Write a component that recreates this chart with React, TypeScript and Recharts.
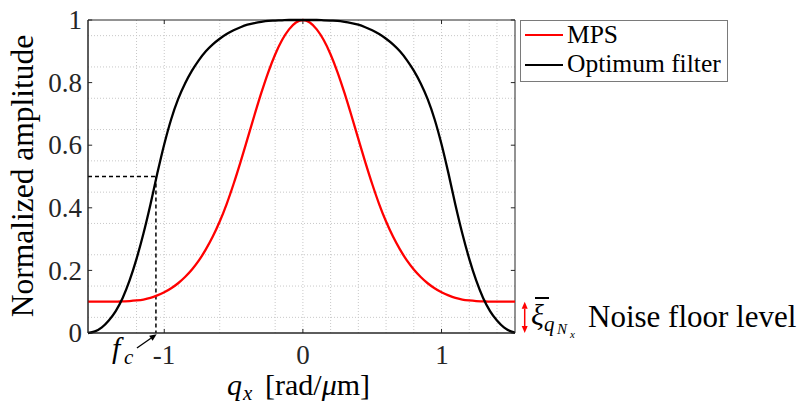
import React from "react";
import { LineChart, Line, XAxis, YAxis, CartesianGrid, ReferenceLine, ReferenceArea, Legend } from "recharts";

const FONT = '"Liberation Serif", serif';
const AXIS = "#262626";

// spatial frequency q_x [rad/um]
const qValues = [
  -1.55, -1.5, -1.45, -1.4, -1.35, -1.3, -1.25, -1.2, -1.15, -1.1, -1.05, -1, -0.95, -0.9, -0.85, -0.8,
  -0.75, -0.7, -0.65, -0.6, -0.55, -0.5, -0.45, -0.4, -0.35, -0.3, -0.25, -0.2, -0.15, -0.1, -0.05, 0,
  0.05, 0.1, 0.15, 0.2, 0.25, 0.3, 0.35, 0.4, 0.45, 0.5, 0.55, 0.6, 0.65, 0.7, 0.75, 0.8,
  0.85, 0.9, 0.95, 1, 1.05, 1.1, 1.15, 1.2, 1.25, 1.3, 1.35, 1.4, 1.45, 1.5, 1.55,
];

const mpsValues = [
  0.1, 0.1, 0.1, 0.1, 0.1, 0.101, 0.102, 0.104, 0.107, 0.112, 0.12, 0.13, 0.143, 0.159, 0.179, 0.203,
  0.232, 0.267, 0.308, 0.356, 0.412, 0.476, 0.546, 0.62, 0.695, 0.767, 0.833, 0.89, 0.936, 0.97, 0.992, 1,
  0.992, 0.97, 0.936, 0.89, 0.833, 0.767, 0.695, 0.62, 0.546, 0.476, 0.412, 0.356, 0.308, 0.267, 0.232, 0.203,
  0.179, 0.159, 0.143, 0.13, 0.12, 0.112, 0.107, 0.104, 0.102, 0.101, 0.1, 0.1, 0.1, 0.1, 0.1,
];

const filterValues = [
  0, 0.005, 0.018, 0.04, 0.07, 0.112, 0.168, 0.237, 0.318, 0.41, 0.51, 0.603, 0.683, 0.747, 0.797, 0.838,
  0.872, 0.9, 0.922, 0.94, 0.955, 0.967, 0.977, 0.985, 0.99, 0.994, 0.997, 0.998, 0.999, 1, 1, 1,
  1, 1, 0.999, 0.998, 0.997, 0.994, 0.99, 0.985, 0.977, 0.967, 0.955, 0.94, 0.922, 0.9, 0.872, 0.838,
  0.797, 0.747, 0.683, 0.603, 0.51, 0.41, 0.318, 0.237, 0.168, 0.112, 0.07, 0.04, 0.018, 0.005, 0,
];

const xTicks = [-1, 0, 1];
const yTicks = [0, 0.2, 0.4, 0.6, 0.8, 1];
const gridX = [-1.4, -1.2, -1, -0.8, -0.6, -0.4, -0.2, 0, 0.2, 0.4, 0.6, 0.8, 1, 1.2, 1.4];
const gridY = [0.05, 0.1, 0.15, 0.2, 0.25, 0.3, 0.35, 0.4, 0.45, 0.5, 0.55, 0.6, 0.65, 0.7, 0.75, 0.8, 0.85, 0.9, 0.95];

const xMin = -1.55;
const xMax = 1.53;
const cutoffFreq = -1.06;
const halfLevel = 0.5;
const noiseFloor = 0.1;

const data = qValues.map((q, i) => ({ q, mps: mpsValues[i], filter: filterValues[i] }));

// the serif face only gets picked at small sizes here, so text is set at 16px and scaled up
const BASE = 16;
const BASELINE = 0.8375 * BASE;

function Label({ x, y, size, anchor = "start", italic = false, rotate = 0, color = "#000", children }: any) {
  const k = size / BASE;
  const inner: React.CSSProperties = {
    position: "absolute",
    top: -BASELINE,
    whiteSpace: "nowrap",
    fontFamily: FONT,
    fontSize: BASE,
    lineHeight: `${BASE}px`,
    fontStyle: italic ? "italic" : "normal",
    color,
  };
  if (anchor === "end") inner.right = 0;
  else inner.left = 0;
  if (anchor === "middle") inner.transform = "translateX(-50%)";
  return (
    <div
      style={{
        position: "absolute",
        left: x,
        top: y,
        width: 0,
        height: 0,
        transform: `rotate(${rotate}deg) scale(${k})`,
        transformOrigin: "0 0",
      }}
    >
      <span style={inner}>{children}</span>
    </div>
  );
}

const XTick = (p: any) => (
  <foreignObject x={p.x - 50} y={p.y - 20} width={100} height={60} style={{ overflow: "visible" }}>
    <div style={{ position: "relative", width: 100, height: 60 }}>
      <Label x={50} y={41} size={27} anchor="middle" color={AXIS}>
        {String(p.payload.value)}
      </Label>
    </div>
  </foreignObject>
);

const YTick = (p: any) => (
  <foreignObject x={p.x - 100} y={p.y - 30} width={100} height={60} style={{ overflow: "visible" }}>
    <div style={{ position: "relative", width: 100, height: 60 }}>
      <Label x={100} y={39.3} size={27} anchor="end" color={AXIS}>
        {String(p.payload.value)}
      </Label>
    </div>
  </foreignObject>
);

function arrowHead(x: number, y: number, fromX: number, fromY: number, color: string) {
  const ang = Math.atan2(y - fromY, x - fromX);
  const len = 7;
  const half = 3;
  const bx = x - len * Math.cos(ang);
  const by = y - len * Math.sin(ang);
  const px = -Math.sin(ang) * half;
  const py = Math.cos(ang) * half;
  return {
    base: [bx, by],
    el: <polygon points={`${x},${y} ${bx + px},${by + py} ${bx - px},${by - py}`} fill={color} />,
  };
}

const SingleArrow = (p: any) => {
  const { x1, y1, x2, y2 } = p;
  const h = arrowHead(x2, y2, x1, y1, "#000");
  return (
    <g>
      <line x1={x1} y1={y1} x2={h.base[0]} y2={h.base[1]} stroke="#000" strokeWidth={1.3} />
      {h.el}
    </g>
  );
};

const DoubleArrow = (p: any) => {
  const { x1, y1, x2, y2 } = p;
  const a = arrowHead(x1, y1, x2, y2, "#ff0000");
  const b = arrowHead(x2, y2, x1, y1, "#ff0000");
  return (
    <g>
      <line x1={a.base[0]} y1={a.base[1]} x2={b.base[0]} y2={b.base[1]} stroke="#ff0000" strokeWidth={1.5} />
      {a.el}
      {b.el}
    </g>
  );
};

const renderLegend = (props: any) => {
  const payload = props.payload || [];
  return (
    <div
      style={{
        position: "relative",
        boxSizing: "border-box",
        border: "1px solid #7a7a7a",
        background: "#fff",
        width: 208,
        height: 62,
      }}
    >
      {payload.map((entry: any, i: number) => (
        <React.Fragment key={entry.value}>
          <div
            style={{
              position: "absolute",
              left: 4,
              top: 12.75 + i * 30,
              width: 38,
              height: 0,
              borderTop: `2.5px solid ${entry.color}`,
            }}
          />
          <Label x={46} y={22 + i * 29} size={25.5}>
            {entry.value}
          </Label>
        </React.Fragment>
      ))}
    </div>
  );
};

function Annotations() {
  const sub = { fontFamily: FONT, fontStyle: "italic" as const };
  return (
    <div style={{ position: "absolute", left: 0, top: 0, width: 807, height: 405, pointerEvents: "none" }}>
      <Label x={33} y={176} size={31.5} anchor="middle" rotate={-90}>
        Normalized amplitude
      </Label>
      <Label x={112} y={358} size={30} italic>f</Label>
      <Label x={124} y={364} size={21} italic>c</Label>
      <Label x={227} y={395} size={30} italic>q</Label>
      <Label x={243} y={400} size={21} italic>x</Label>
      <Label x={265} y={395} size={30}>
        [rad/<span style={sub}>μ</span>m]
      </Label>
      <div style={{ position: "absolute", left: 535, top: 297.4, width: 14, height: 1.2, background: "#000" }} />
      <Label x={531} y={325} size={30} italic>ξ</Label>
      <Label x={544} y={331} size={21} italic>q</Label>
      <Label x={557} y={334} size={15} italic>N</Label>
      <Label x={570} y={338} size={11} italic>x</Label>
      <Label x={588} y={327} size={31}>Noise floor level</Label>
    </div>
  );
}

export default function App() {
  const tx = 0.03;
  const ty = 0.013;
  return (
    <div style={{ position: "absolute", left: 0, top: 0, width: 807, height: 405, background: "#fff" }}>
      <LineChart width={807} height={405} data={data} margin={{ top: 20, right: 292, bottom: 30, left: 40 }}>
        <CartesianGrid
          stroke="#c8c8c8"
          strokeDasharray="1 2"
          horizontalValues={gridY}
          verticalValues={gridX}
        />
        <XAxis
          dataKey="q"
          type="number"
          domain={[xMin, xMax]}
          allowDataOverflow
          ticks={xTicks}
          tickLine={false}
          tickSize={0}
          tickMargin={10}
          height={42}
          axisLine={{ stroke: AXIS, strokeWidth: 1 }}
          tick={XTick}
        />
        <YAxis
          type="number"
          domain={[0, 1]}
          ticks={yTicks}
          width={48}
          tickLine={false}
          tickSize={0}
          tickMargin={6}
          axisLine={{ stroke: AXIS, strokeWidth: 1 }}
          tick={YTick}
        />
        <ReferenceArea x1={xMin} x2={xMax} y1={0} y2={1} fill="none" fillOpacity={0} stroke={AXIS} strokeWidth={1} />
        {yTicks.map((v) => (
          <ReferenceLine key={`yl${v}`} segment={[{ x: xMin, y: v }, { x: xMin + tx, y: v }]} stroke={AXIS} />
        ))}
        {yTicks.map((v) => (
          <ReferenceLine key={`yr${v}`} segment={[{ x: xMax, y: v }, { x: xMax - tx, y: v }]} stroke={AXIS} />
        ))}
        {xTicks.map((v) => (
          <ReferenceLine key={`xb${v}`} segment={[{ x: v, y: 0 }, { x: v, y: ty }]} stroke={AXIS} />
        ))}
        {xTicks.map((v) => (
          <ReferenceLine key={`xt${v}`} segment={[{ x: v, y: 1 }, { x: v, y: 1 - ty }]} stroke={AXIS} />
        ))}
        <ReferenceLine
          segment={[{ x: xMin, y: halfLevel }, { x: cutoffFreq, y: halfLevel }]}
          stroke="#000"
          strokeWidth={1.5}
          strokeDasharray="4 3"
        />
        <ReferenceLine
          segment={[{ x: cutoffFreq, y: halfLevel }, { x: cutoffFreq, y: 0 }]}
          stroke="#000"
          strokeWidth={1.5}
          strokeDasharray="4 3"
        />
        <Line
          type="monotone"
          dataKey="mps"
          name="MPS"
          stroke="#ff0000"
          strokeWidth={2.3}
          dot={false}
          activeDot={false}
          isAnimationActive={false}
        />
        <Line
          type="monotone"
          dataKey="filter"
          name="Optimum filter"
          stroke="#000000"
          strokeWidth={2.3}
          dot={false}
          activeDot={false}
          isAnimationActive={false}
        />
        <ReferenceLine
          segment={[{ x: -1.197, y: -0.048 }, { x: cutoffFreq + 0.005, y: -0.004 }]}
          ifOverflow="visible"
          shape={SingleArrow}
        />
        <ReferenceLine
          segment={[{ x: 1.6, y: noiseFloor }, { x: 1.6, y: 0 }]}
          ifOverflow="visible"
          shape={DoubleArrow}
        />
        <Legend
          layout="vertical"
          align="center"
          verticalAlign="middle"
          content={renderLegend}
          wrapperStyle={{ left: 520, top: 20, width: 208, height: 62 }}
        />
      </LineChart>
      <Annotations />
    </div>
  );
}
